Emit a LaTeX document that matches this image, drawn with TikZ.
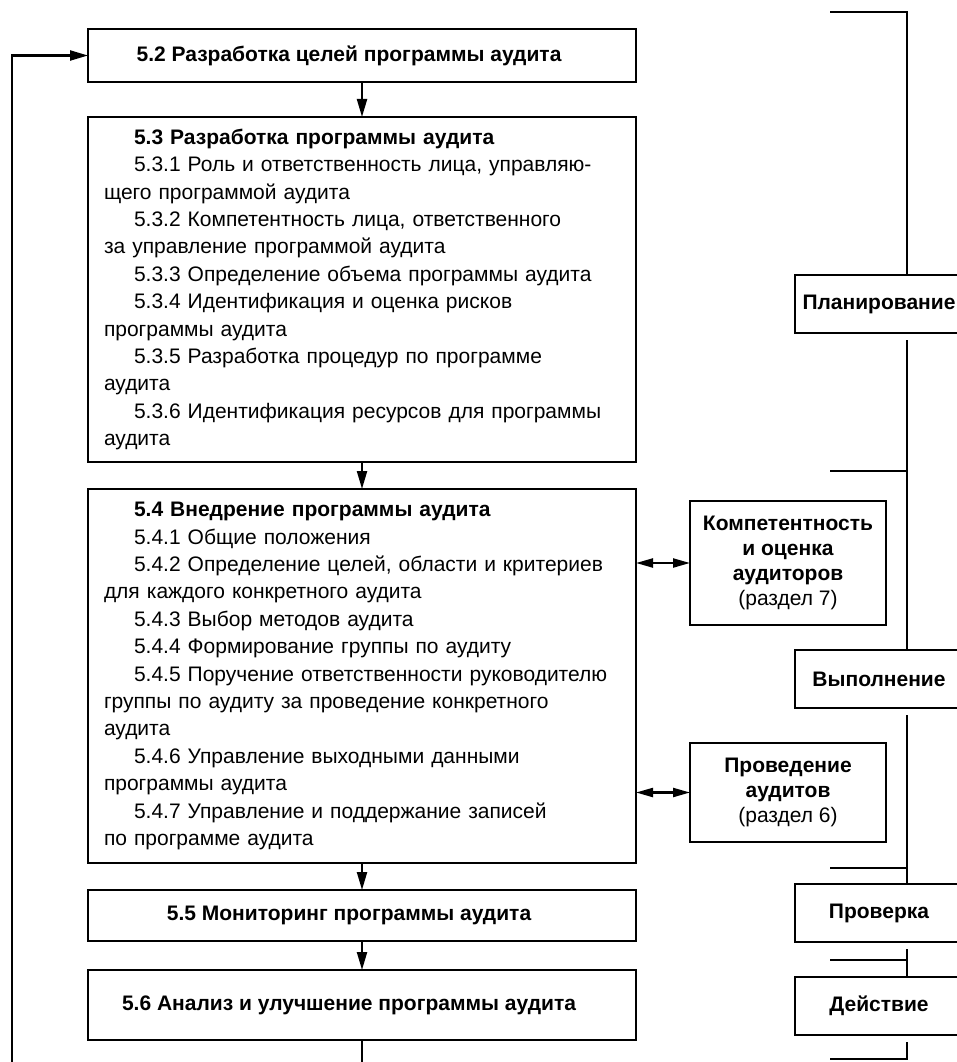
\documentclass[tikz,border=0pt]{standalone}
\usepackage{fontspec}
\setmainfont{Liberation Sans}
\usepackage{tikz}
\usetikzlibrary{arrows.meta,calc,positioning}
\newcommand{\ind}{\hspace*{30pt}}

\begin{document}
\begin{tikzpicture}[x=1pt,y=-1pt,
  box/.style={draw,line width=2.8pt,anchor=north west,inner sep=0pt,outer sep=0pt,
    font=\fontsize{21}{27.4}\selectfont},
  textbox/.style={box,inner xsep=16pt,text width=516pt,align=left,minimum width=548pt},
  titlebox/.style={box,minimum width=548pt,font=\fontsize{21}{26.2}\selectfont\bfseries},
  sidebox/.style={box,minimum width=196pt,align=center,font=\fontsize{21}{25}\selectfont},
  phase/.style={box,minimum width=168pt,minimum height=58pt,font=\fontsize{21}{26.2}\selectfont\bfseries},
  conn/.style={line width=2.2pt},
  arr/.style={conn,-{Triangle[length=18pt,width=10pt]}},
  dbl/.style={conn,{Triangle[length=17pt,width=9pt]}-{Triangle[length=17pt,width=9pt]}}]
\useasboundingbox (0,0) rectangle (957,1062);

% main column
\node[titlebox,minimum height=53pt] (s52) at (88,29) {5.2 Разработка целей программы аудита\hspace*{26pt}};
\node[textbox,minimum height=345pt] (s53) at (88,117) {\ind\textbf{5.3 Разработка программы аудита}\\
\ind 5.3.1 Роль и ответственность лица, управляю-\\
щего программой аудита\\
\ind 5.3.2 Компетентность лица, ответственного\\
за управление программой аудита\\
\ind 5.3.3 Определение объема программы аудита\\
\ind 5.3.4 Идентификация и оценка рисков\\
программы аудита\\
\ind 5.3.5 Разработка процедур по программе\\
аудита\\
\ind 5.3.6 Идентификация ресурсов для программы\\
аудита};
\node[textbox,minimum height=374pt] (s54) at (88,489) {\ind\textbf{5.4 Внедрение программы аудита}\\
\ind 5.4.1 Общие положения\\
\ind 5.4.2 Определение целей, области и критериев\\
для каждого конкретного аудита\\
\ind 5.4.3 Выбор методов аудита\\
\ind 5.4.4 Формирование группы по аудиту\\
\ind 5.4.5 Поручение ответственности руководителю\\
группы по аудиту за проведение конкретного\\
аудита\\
\ind 5.4.6 Управление выходными данными\\
программы аудита\\
\ind 5.4.7 Управление и поддержание записей\\
по программе аудита};
\node[titlebox,minimum height=51pt] (s55) at (88,890) {5.5 Мониторинг программы аудита\hspace*{26pt}};
\node[titlebox,minimum height=70pt] (s56) at (88,970) {5.6 Анализ и улучшение программы аудита\hspace*{26pt}};

\draw[arr] (s52) -- (s53);
\draw[arr] (s53) -- (s54);
\draw[arr] (s54) -- (s55);
\draw[arr] (s55) -- (s56);

% loop back
\coordinate (tail) at (362,1062);
\coordinate (loop) at (12,1062);
\draw[conn] (s56.south) -- (tail);
\draw[arr] (loop) |- (s52.west);

% side boxes
\node[sidebox,minimum height=124pt] (comp) at (690,501) {\textbf{Компетентность}\\\textbf{и оценка}\\\textbf{аудиторов}\\(раздел 7)};
\node[sidebox,minimum height=99pt] (cond) at (690,743) {\textbf{Проведение}\\\textbf{аудитов}\\(раздел 6)};
\draw[dbl] (s54.east |- comp.west) -- (comp.west);
\draw[dbl] (s54.east |- cond.west) -- (cond.west);

% phases
\node[phase] (plan) at (795,275) {Планирование};
\node[phase] (exec) at (795,650) {Выполнение};
\node[phase] (check) at (795,884) {Проверка};
\node[phase] (act) at (795,977) {Действие};

\coordinate (top) at (830,12);
\coordinate (spine) at (907,12);
\coordinate (d1) at (830,471);
\coordinate (d2) at (830,868);
\coordinate (d3) at (830,960);
\coordinate (d4) at (830,1059);
\draw[conn] (top) -- (spine) -- (spine |- plan.north);
\draw[conn] ($(spine |- plan.south)+(0,7)$) -- (spine |- exec.north);
\draw[conn] ($(spine |- exec.south)+(0,7)$) -- (spine |- check.north);
\draw[conn] ($(spine |- check.south)+(0,7)$) -- (spine |- act.north);
\draw[conn] ($(spine |- act.south)+(0,7)$) -- (spine |- d4) -- (d4);
\draw[conn] (d1) -- (d1 -| spine);
\draw[conn] (d2) -- (d2 -| spine);
\draw[conn] (d3) -- (d3 -| spine);
\end{tikzpicture}
\end{document}
